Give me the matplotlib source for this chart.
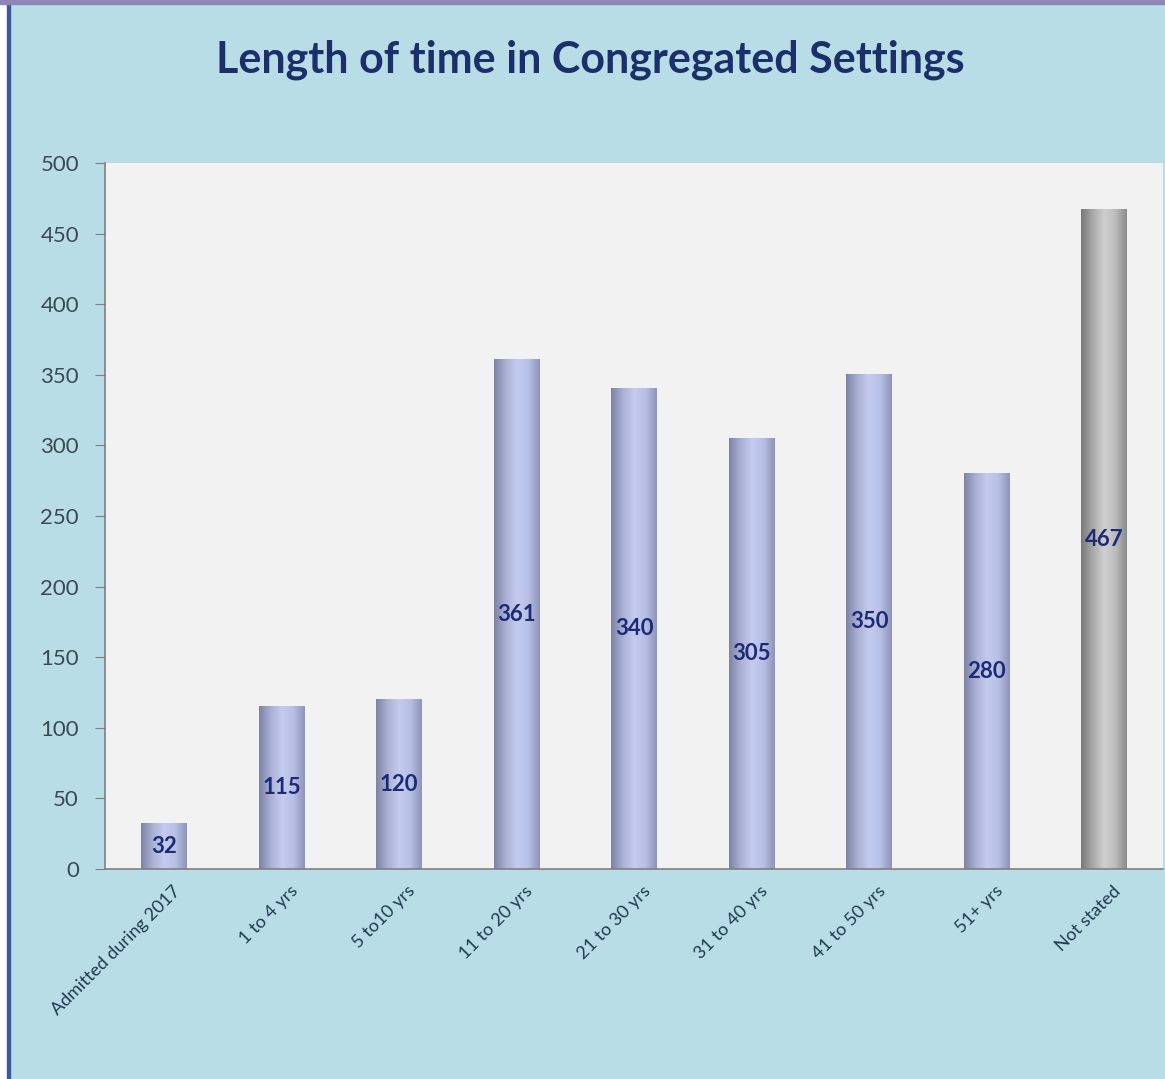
import numpy as np
import matplotlib
matplotlib.use('Agg')
import matplotlib.pyplot as plt
from matplotlib.colors import LinearSegmentedColormap
from matplotlib.patches import Rectangle
import matplotlib.transforms as mtransforms

categories = ['Admitted during 2017', '1 to 4 yrs', '5 to10 yrs', '11 to 20 yrs',
              '21 to 30 yrs', '31 to 40 yrs', '41 to 50 yrs', '51+ yrs', 'Not stated']
counts = [32, 115, 120, 361, 340, 305, 350, 280, 467]
gray_bar = 'Not stated'

plt.rcParams['font.family'] = ['Lato', 'DejaVu Sans']

# horizontal shading to look like the cylinders of the original
blue_cm = LinearSegmentedColormap.from_list('cyl_blue', ['#7d84a6', '#a9b0d4', '#c4cbef', '#b9c0e6', '#8e95b8'])
gray_cm = LinearSegmentedColormap.from_list('cyl_gray', ['#7a7a7a', '#a8a8a8', '#cfcfcf', '#bdbdbd', '#8c8c8c'])
grad = np.linspace(0, 1, 64).reshape(1, -1)

fig = plt.figure(figsize=(11.65, 10.79), dpi=100)
fig.patch.set_facecolor('#b9dde6')

# frame lines of the pasted chart
fig.add_artist(Rectangle((0, 0), 0.006, 1, transform=fig.transFigure, color='white', zorder=0))
fig.add_artist(Rectangle((0.006, 0), 0.0025, 1, transform=fig.transFigure, color='#3b5a9a', zorder=1))
fig.add_artist(Rectangle((0, 0.996), 1, 0.004, transform=fig.transFigure, color='#8f86b8', zorder=1))

ax = fig.add_axes([0.0905, 0.1946, 0.9077, 0.6544])
ax.set_facecolor('#f2f2f2')

w = 0.39
for i, (cat, v) in enumerate(zip(categories, counts)):
    cm = gray_cm if cat == gray_bar else blue_cm
    ax.imshow(grad, cmap=cm, aspect='auto', extent=(i - w / 2, i + w / 2, 0, v),
              interpolation='bilinear', zorder=2)
    ax.text(i, v / 2, str(v), ha='center', va='center', fontsize=16, fontweight='bold',
            color='#1c2a78', zorder=3)

ax.set_xlim(-0.5, len(categories) - 0.5)
ax.set_ylim(0, 500)
ax.set_yticks(np.arange(0, 501, 50))
ax.tick_params(axis='y', labelsize=16, labelcolor='#3a4a55', color='#808080', length=7, pad=12)
ax.set_xticks(range(len(categories)))
ax.set_xticklabels(categories, rotation=45, ha='right', va='top', rotation_mode='anchor',
                   fontsize=13, color='#1f3a4f')
ax.tick_params(axis='x', length=0, pad=10)
# push the slanted labels a little to the right like the original
shift = mtransforms.ScaledTranslation(8 / 100, 0, fig.dpi_scale_trans)
for lbl in ax.get_xticklabels():
    lbl.set_transform(lbl.get_transform() + shift)

for s in ['top', 'right']:
    ax.spines[s].set_visible(False)
for s in ['left', 'bottom']:
    ax.spines[s].set_color('#808080')
    ax.spines[s].set_linewidth(1.2)

fig.text(0.5064, 1 - 72 / 1079, 'Length of time in Congregated Settings', ha='center', va='baseline',
         fontsize=31, fontweight='bold', color='#1b2f6b')

fig.savefig('out.png', dpi=100, facecolor=fig.get_facecolor())
